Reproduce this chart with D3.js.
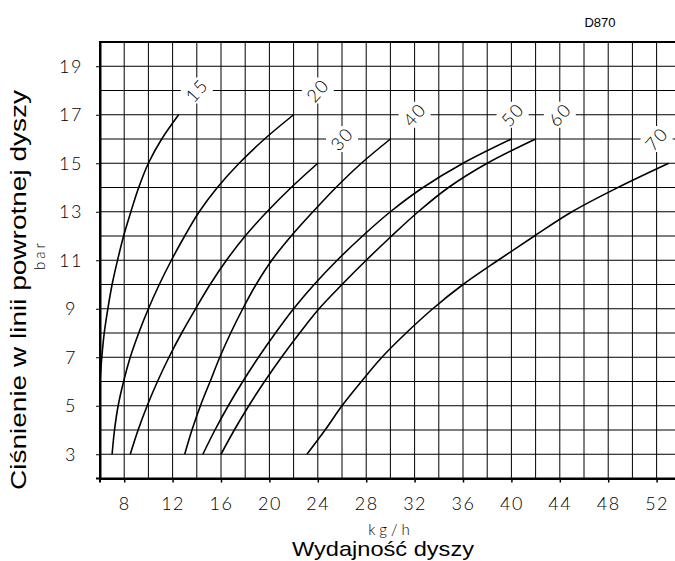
<!DOCTYPE html>
<html>
<head>
<meta charset="utf-8">
<script src="https://cdn.jsdelivr.net/npm/d3@7"></script>
<style>
  body { margin: 0; background: #fff; }
  svg { display: block; }
  .num { font-family: Lato, "Liberation Sans", Arial, sans-serif; font-weight: 300; font-size: 18px; letter-spacing: 1.5px; fill: #000; }
</style>
</head>
<body>
<script>
// pressure levels (bar) at which the flow of each curve is read
const pressure = [3, 4, 5, 6, 7, 8, 9, 10, 11, 12, 13, 14, 15, 16, 17];
// flow (kg/h) per curve, null where the curve does not exist
const flow15 = [null, null, null, 6.0, 6.15, 6.35, 6.65, 7.0, 7.45, 7.95, 8.55, 9.2, 10.0, 11.1, 12.5];
const flow20 = [7.0, 7.2, 7.5, 7.95, 8.5, 9.2, 10.0, 10.9, 11.9, 13.0, 14.2, 15.7, 17.5, 19.6, 22.0];
const flow30 = [8.5, 9.15, 9.9, 10.75, 11.7, 12.75, 13.9, 15.1, 16.45, 18.0, 19.8, 21.8, 24.0, null, null];
const flow40 = [13.0, 13.6, 14.3, 15.1, 15.9, 16.8, 17.8, 18.9, 20.2, 21.8, 23.6, 25.5, 27.6, 30.0, null];
const flow50 = [14.5, 15.5, 16.6, 17.8, 19.1, 20.5, 22.0, 23.7, 25.6, 27.7, 30.0, 32.7, 36.0, 40.0, null];
const flow60 = [16.0, 17.1, 18.3, 19.6, 21.0, 22.5, 24.1, 26.0, 28.0, 30.1, 32.3, 34.8, 38.0, 42.0, null];
const flow70 = [23.1, 24.6, 26.0, 27.6, 29.3, 31.3, 33.5, 36.0, 38.9, 41.9, 45.0, 48.8, 53.0, null, null];

// curve labels and where they sit
const curveNames = ["15", "20", "30", "40", "50", "60", "70"];
const labelFlow = [14, 24, 26, 32, 40.1, 44, 52];
const labelPress = [18, 18, 16, 17, 17, 17, 16];

const xTicks = [8, 12, 16, 20, 24, 28, 32, 36, 40, 44, 48, 52];
const yTicks = [3, 5, 7, 9, 11, 13, 15, 17, 19];

const width = 675;
const height = 561;

const x = d3.scaleLinear().domain([6, 53.52]).range([100, 675]);
const y = d3.scaleLinear().domain([2, 20]).range([478.5, 42]);

const svg = d3.select("body").append("svg")
    .attr("width", width)
    .attr("height", height);

// grid
const grid = svg.append("g");
grid.selectAll(".vg")
  .data(d3.range(8, 54, 2))
  .join("line")
    .attr("x1", d => x(d)).attr("x2", d => x(d))
    .attr("y1", y(20)).attr("y2", y(2))
    .attr("stroke", "#000").attr("stroke-width", 1);
grid.selectAll(".hg")
  .data(d3.range(3, 20, 1))
  .join("line")
    .attr("x1", x(6)).attr("x2", width)
    .attr("y1", d => y(d)).attr("y2", d => y(d))
    .attr("stroke", "#000").attr("stroke-width", 1);

// axes
const xAxis = svg.append("g")
    .attr("transform", `translate(0,${y(2)})`)
    .call(d3.axisBottom(x).tickValues(xTicks).tickSize(4).tickPadding(15).tickSizeOuter(0));
xAxis.select(".domain").attr("stroke-width", 2);
xAxis.selectAll(".tick line").attr("stroke-width", 1.5);
xAxis.selectAll("text").attr("class", "num").attr("font-size", null).attr("font-family", null);

const yAxis = svg.append("g")
    .attr("transform", `translate(${x(6)},0)`)
    .call(d3.axisLeft(y).tickValues(yTicks).tickSize(4).tickSizeOuter(0));
yAxis.select(".domain").attr("stroke-width", 2);
yAxis.selectAll("text").attr("class", "num").attr("font-size", null).attr("font-family", null)
    .attr("text-anchor", "middle").attr("x", -29);

// extend left axis slightly below x-axis, and top border
svg.append("line")
    .attr("x1", x(6)).attr("x2", x(6))
    .attr("y1", y(20)).attr("y2", y(2) + 4)
    .attr("stroke", "#000").attr("stroke-width", 2);
svg.append("line")
    .attr("x1", x(6) - 1).attr("x2", width)
    .attr("y1", y(20)).attr("y2", y(20))
    .attr("stroke", "#000").attr("stroke-width", 2);
svg.append("line")
    .attr("x1", x(6) - 4).attr("x2", width)
    .attr("y1", y(2)).attr("y2", y(2))
    .attr("stroke", "#000").attr("stroke-width", 2);

// curves
const series = [flow15, flow20, flow30, flow40, flow50, flow60, flow70];
const line = d3.line()
    .defined(d => d[0] != null)
    .x(d => x(d[0]))
    .y(d => y(d[1]))
    .curve(d3.curveCatmullRom);

svg.append("g").selectAll("path")
  .data(series.map(s => s.map((v, i) => [v, pressure[i]])))
  .join("path")
    .attr("d", line)
    .attr("fill", "none")
    .attr("stroke", "#000")
    .attr("stroke-width", 1.6);

// curve labels with white backing
const lab = svg.append("g").selectAll("g")
  .data(curveNames)
  .join("g")
    .attr("transform", (d, i) => `translate(${x(labelFlow[i])},${y(labelPress[i])})`);
lab.append("rect")
    .attr("x", -16).attr("y", -13)
    .attr("width", 32).attr("height", 26)
    .attr("fill", "#fff");
lab.append("text")
    .attr("class", "num")
    .attr("transform", "rotate(-48)")
    .attr("text-anchor", "middle")
    .attr("dy", "0.36em")
    .text(d => d);

// titles
svg.append("text")
    .attr("x", 600).attr("y", 27)
    .attr("text-anchor", "middle")
    .attr("font-family", "Liberation Sans, Arial, sans-serif")
    .attr("font-size", 13)
    .text("D870");

svg.append("text")
    .attr("x", 391).attr("y", 535)
    .attr("text-anchor", "middle")
    .attr("font-family", "Lato, Liberation Sans, Arial, sans-serif")
    .attr("font-weight", 300)
    .attr("font-size", 15)
    .attr("letter-spacing", 4)
    .text("kg/h");

svg.append("text")
    .attr("x", 383).attr("y", 556)
    .attr("text-anchor", "middle")
    .attr("font-family", "Liberation Sans, Arial, sans-serif")
    .attr("font-size", 21)
    .attr("textLength", 182)
    .attr("lengthAdjust", "spacingAndGlyphs")
    .text("Wydajność dyszy");

svg.append("text")
    .attr("transform", "translate(26,290) rotate(-90)")
    .attr("text-anchor", "middle")
    .attr("font-family", "Liberation Sans, Arial, sans-serif")
    .attr("font-size", 22)
    .attr("textLength", 400)
    .attr("lengthAdjust", "spacingAndGlyphs")
    .text("Ciśnienie w linii powrotnej dyszy");

svg.append("text")
    .attr("transform", "translate(45,255) rotate(-90)")
    .attr("text-anchor", "middle")
    .attr("font-family", "Lato, Liberation Sans, Arial, sans-serif")
    .attr("font-weight", 300)
    .attr("font-size", 15)
    .attr("letter-spacing", 3)
    .text("bar");
</script>
</body>
</html>
